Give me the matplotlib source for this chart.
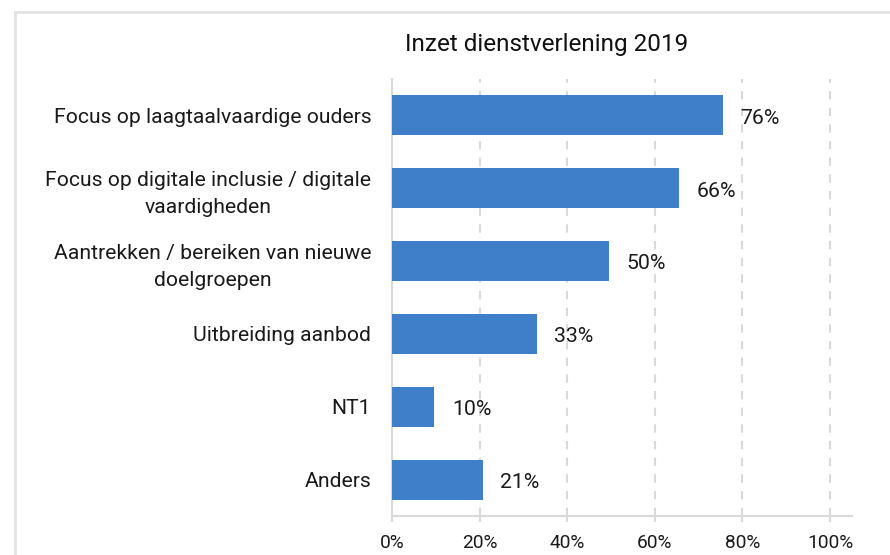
import matplotlib
matplotlib.use("Agg")
import matplotlib.pyplot as plt
from matplotlib.lines import Line2D

categories = [
    "Focus op laagtaalvaardige ouders",
    "Focus op digitale inclusie / digitale\nvaardigheden",
    "Aantrekken / bereiken van nieuwe\ndoelgroepen",
    "Uitbreiding aanbod",
    "NT1",
    "Anders",
]
values = [75.6, 65.6, 49.6, 33.0, 9.7, 20.8]
xticks = [0, 20, 40, 60, 80, 100]
xtick_labels = ["0%", "20%", "40%", "60%", "80%", "100%"]
title = "Inzet dienstverlening 2019"

plt.rcParams['font.family'] = ['Roboto', 'DejaVu Sans']

fig = plt.figure(figsize=(8.9, 5.55), dpi=100)
ax = fig.add_axes([392/890, 1-516/555, (852-392)/890, (516-79)/555])

bar_color = "#3F7EC8"
grid_color = "#D9D9D9"

y = list(range(len(categories)))
ax.barh(y, values, height=0.55, color=bar_color, zorder=3)
for yi, v in zip(y, values):
    ax.annotate(f"{round(v)}%", xy=(v, yi), xytext=(12.5, -2), textcoords="offset points",
                va="center", ha="left", fontsize=15.3, color="#1a1a1a")

ax.set_xlim(0, 105)
ax.set_ylim(len(categories) - 0.5, -0.5)
ax.set_xticks(xticks)
ax.set_xticklabels(xtick_labels, fontsize=13.8, color="#1a1a1a")
ax.set_yticks(y)
ax.set_yticklabels(categories, fontsize=15.2, color="#1a1a1a", multialignment="center", linespacing=1.5)
ax.tick_params(axis="y", length=0, pad=15)
ax.tick_params(axis="x", length=4, width=1.5, color=grid_color, pad=9)

for xt in xticks[1:]:
    ax.axvline(xt, color=grid_color, linewidth=1.5, linestyle=(0, (4, 4)), zorder=1)

for s in ["top", "right"]:
    ax.spines[s].set_visible(False)
ax.spines["left"].set_color(grid_color)
ax.spines["left"].set_linewidth(1.5)
ax.spines["bottom"].set_color(grid_color)
ax.spines["bottom"].set_linewidth(1.5)

fig.text(547/890, 1-44/555, title, ha="center", va="center", fontsize=17.5, color="#111111")

# outer frame lines
fig.add_artist(Line2D([15/890, 1.0], [1-12/555, 1-12/555], color="#E3E3E3", linewidth=2, transform=fig.transFigure))
fig.add_artist(Line2D([15/890, 15/890], [0, 1-12/555], color="#E3E3E3", linewidth=2, transform=fig.transFigure))

fig.savefig("out.png", dpi=100)
